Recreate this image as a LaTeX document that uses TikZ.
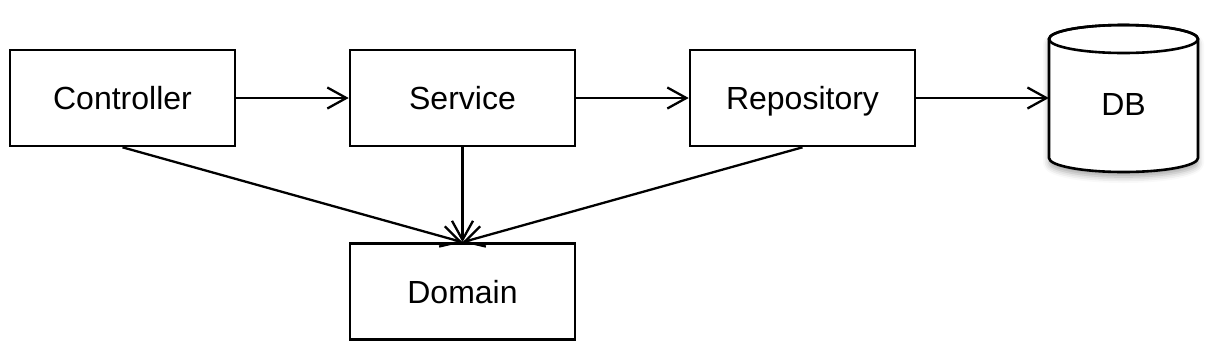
\documentclass[tikz,border=0pt]{standalone}
\usepackage{fontspec}
\setmainfont{Liberation Sans}
\usetikzlibrary{arrows.meta,shadows.blur}
\begin{document}
\begin{tikzpicture}[x=1pt,y=-1pt,
  box/.style={draw, line width=2.6pt, minimum width=225pt, minimum height=96pt, inner sep=0pt, text height=23pt, text depth=0pt, font=\fontsize{32}{38}\selectfont},
  lbl/.style={inner sep=0pt, text height=23pt, text depth=0pt, font=\fontsize{32}{38}\selectfont},
  conn/.style={line width=2.3pt, -{Straight Barb[length=19pt,width=21pt,line width=2.3pt]}},
  cyl/.style={line width=2.6pt},
]
\useasboundingbox (0,0) rectangle (1216,354);
\node[box] (ctrl) at (122.5,98) {Controller};
\node[box] (svc) at (462.5,98) {Service};
\node[box] (repo) at (802.5,98) {Repository};
\node[box] (dom) at (462.5,291.5) {Domain};
% DB cylinder
\fill[white, blur shadow={shadow xshift=0pt, shadow yshift=-5pt, shadow blur radius=6pt, shadow opacity=35}]
  (1049,39) -- (1049,158) arc[start angle=180, end angle=0, x radius=74.5, y radius=14]
  -- (1198,39) arc[start angle=0, end angle=-180, x radius=74.5, y radius=14] -- cycle;
\draw[cyl] (1049,39) -- (1049,158) arc[start angle=180, end angle=0, x radius=74.5, y radius=14]
  -- (1198,39) arc[start angle=0, end angle=-180, x radius=74.5, y radius=14] -- cycle;
\draw[cyl] (1123.5,39) ellipse[x radius=74.5, y radius=14];
\node[inner sep=0pt, minimum width=149pt, minimum height=119pt] (db) at (1123.5,98) {};
\node[lbl] (dbl) at (1123.5,104) {DB};
% connectors
\draw[conn] (ctrl) -- (svc);
\draw[conn] (svc) -- (repo);
\draw[conn] (repo) -- (db.west);
\draw[conn] (svc) -- (dom);
\draw[conn] (ctrl.south) -- (dom.north);
\draw[conn] (repo.south) -- (dom.north);
\end{tikzpicture}
\end{document}
